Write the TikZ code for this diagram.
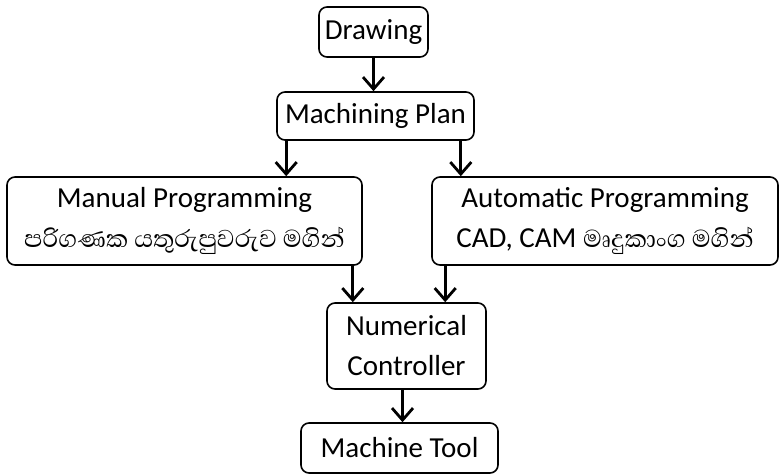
\documentclass[tikz,border=0pt]{standalone}
\usepackage{fontspec}
\setmainfont{Carlito}
\newfontfamily\sinhala[Script=Sinhala,Scale=1.08]{Abhaya Libre}
\usetikzlibrary{positioning,arrows.meta,calc}

\begin{document}
\begin{tikzpicture}[
  x=1pt, y=-1pt,
  font=\fontsize{29}{40}\selectfont,
  box/.style={draw, rounded corners=8pt, align=center, line width=1.6pt,
              inner sep=0pt},
  flow/.style={-{Straight Barb[length=12pt,width=21pt,line width=2.8pt]},
               line width=2.8pt},
]
\useasboundingbox (0,0) rectangle (783,474);
\node[box, minimum width=109pt, minimum height=50pt] (drawing) at (373.5,32) {Drawing};
\node[box, minimum width=197pt, minimum height=48pt] (plan) at (375.5,116) {Machining Plan};
\node[box, minimum width=355pt, minimum height=88pt] (manual) at (184.5,221)
  {Manual Programming\\{\sinhala පරිගණක යතුරුපුවරුව මගින්}};
\node[box, minimum width=346pt, minimum height=88pt] (auto) at (605,221)
  {Automatic Programming\\CAD, CAM {\sinhala මෘදුකාංග මගින්}};
\node[box, minimum width=159pt, minimum height=86pt] (nc) at (406.5,346)
  {Numerical\\Controller};
\node[box, minimum width=197pt, minimum height=50pt] (tool) at (399.5,448) {Machine Tool};

\draw[flow] (drawing.south) -- (drawing.south |- plan.north);
\draw[flow] ([xshift=10pt]plan.south west) -- ([xshift=10pt]plan.south west |- manual.north);
\draw[flow] ([xshift=-14pt]plan.south east) -- ([xshift=-14pt]plan.south east |- auto.north);
\draw[flow] ([xshift=-10pt]manual.south east) -- ([xshift=-10pt]manual.south east |- nc.north);
\draw[flow] ([xshift=14pt]auto.south west) -- ([xshift=14pt]auto.south west |- nc.north);
\draw[flow] ([xshift=-4pt]nc.south) -- ([xshift=-4pt]nc.south |- tool.north);
\end{tikzpicture}
\end{document}
